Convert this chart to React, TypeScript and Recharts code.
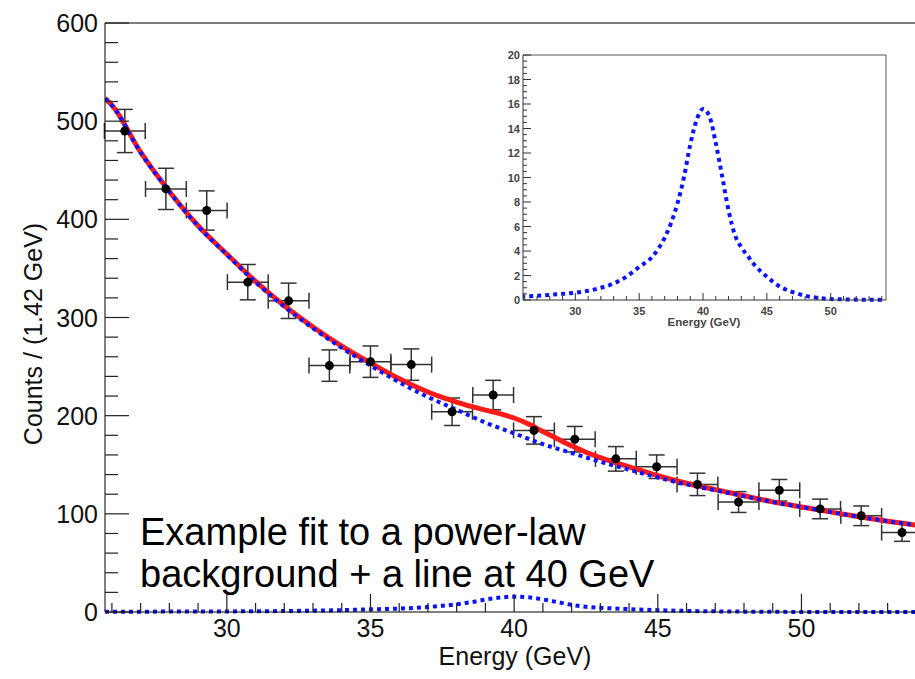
import React from 'react';
import { ComposedChart, LineChart, Line, Scatter, ErrorBar, XAxis, YAxis, ReferenceLine } from 'recharts';

const FONT = '"Liberation Sans", Arial, Helvetica, sans-serif';

// binned data, 1.42 GeV bins
const binCenters = [26.45, 27.88, 29.3, 30.73, 32.15, 33.57, 35.0, 36.42, 37.84, 39.27, 40.69, 42.11, 43.54, 44.96, 46.38, 47.81, 49.23, 50.65, 52.08, 53.5];
const counts = [490, 431, 409, 336, 317, 251, 255, 252, 204, 221, 185, 176, 156, 148, 130, 112, 124, 105, 98, 81];
const countErr = [22, 21, 20, 18, 18, 16, 16, 16, 14, 15, 14, 13, 12.5, 12, 11.4, 10.6, 11, 10, 10, 9];
const binHalfWidth = 0.71;

// power-law background (blue dotted)
const bkgX = [25.76, 26, 27, 28, 29, 30, 31, 32, 33, 34, 35, 36, 37, 38, 39, 40, 41, 42, 43, 44, 45, 46, 47, 48, 49, 50, 51, 52, 53, 54, 54.3];
const bkgY = [523, 516, 468, 428, 393, 364, 336, 311, 289, 269, 251, 234, 219, 206, 193, 182, 171, 162, 153, 145, 137, 130, 124, 118, 112, 107, 102, 97, 92.5, 88.5, 87.3];

// line at 40 GeV (signal component, also the inset)
const sigX = [25.76, 26, 27, 28, 29, 30, 31, 32, 33, 34, 35, 36, 37, 37.5, 38, 38.5, 39, 39.5, 40, 40.5, 41, 41.5, 42, 42.5, 43, 43.5, 44, 45, 46, 47, 48, 49, 50, 51, 52, 53, 54, 54.3];
const sigY = [0.3, 0.3, 0.35, 0.42, 0.5, 0.6, 0.75, 1.0, 1.35, 1.9, 2.7, 3.5, 5.1, 6.3, 7.9, 10.0, 12.7, 14.7, 15.6, 15.0, 12.8, 10.1, 7.3, 5.3, 4.3, 3.6, 2.9, 1.9, 1.1, 0.65, 0.35, 0.17, 0.08, 0.05, 0.03, 0.02, 0.01, 0.01];

// full fit (red)
const totY = [523.3, 516.3, 468.4, 428.4, 393.5, 364.6, 336.8, 312, 290.4, 270.9, 253.7, 237.5, 224.1, 218.6, 213.9, 209.4, 205.7, 202.1, 197.6, 191.4, 183.8, 176.5, 169.3, 162.7, 157.3, 152.5, 147.9, 138.9, 131.1, 124.7, 118.4, 112.2, 107.1, 102, 97, 92.5, 88.5, 87.3];

const xTicks = [26, 27, 28, 29, 30, 31, 32, 33, 34, 35, 36, 37, 38, 39, 40, 41, 42, 43, 44, 45, 46, 47, 48, 49, 50, 51, 52, 53, 54];
const xLabels = [30, 35, 40, 45, 50];
const yTicks = [0, 20, 40, 60, 80, 100, 120, 140, 160, 180, 200, 220, 240, 260, 280, 300, 320, 340, 360, 380, 400, 420, 440, 460, 480, 500, 520, 540, 560, 580, 600];
const yLabels = [0, 100, 200, 300, 400, 500, 600];

const insetXTicks = xTicks;
const insetYLabels = [0, 2, 4, 6, 8, 10, 12, 14, 16, 18, 20];
const insetYTicks = [0, 0.5, 1, 1.5, 2, 2.5, 3, 3.5, 4, 4.5, 5, 5.5, 6, 6.5, 7, 7.5, 8, 8.5, 9, 9.5, 10, 10.5, 11, 11.5, 12, 12.5, 13, 13.5, 14, 14.5, 15, 15.5, 16, 16.5, 17, 17.5, 18, 18.5, 19, 19.5, 20];

const points = binCenters.map((x, i) => ({ x, y: counts[i], ex: binHalfWidth, ey: countErr[i] }));
const bkgData = bkgX.map((x, i) => ({ x, y: bkgY[i] }));
const sigData = sigX.map((x, i) => ({ x, y: sigY[i] }));
const totData = sigX.map((x, i) => ({ x, y: totY[i] }));

const MainXTick = ({ x, y, payload }: any) => {
  const major = xLabels.includes(payload.value);
  return (
    <g>
      <line x1={x} y1={y} x2={x} y2={y - (major ? 18 : 9)} stroke="#222" strokeWidth={1.2} />
      {major && (
        <text x={x} y={y + 25} textAnchor="middle" fontSize={25} fontFamily={FONT} fill="#111">
          {payload.value}
        </text>
      )}
    </g>
  );
};

const MainYTick = ({ x, y, payload }: any) => {
  const major = yLabels.includes(payload.value);
  return (
    <g>
      <line x1={x} y1={y} x2={x + (major ? 24 : 13)} y2={y} stroke="#222" strokeWidth={1.2} />
      {major && (
        <text x={x - 7} y={y + 9} textAnchor="end" fontSize={25} fontFamily={FONT} fill="#111">
          {payload.value}
        </text>
      )}
    </g>
  );
};

const InsetXTick = ({ x, y, payload }: any) => {
  const major = xLabels.includes(payload.value);
  return (
    <g>
      <line x1={x} y1={y} x2={x} y2={y - (major ? 7 : 4)} stroke="#333" strokeWidth={1} />
      {major && (
        <text x={x} y={y + 15} textAnchor="middle" fontSize={11} fontWeight={700} fontFamily={FONT} fill="#444">
          {payload.value}
        </text>
      )}
    </g>
  );
};

const InsetYTick = ({ x, y, payload }: any) => {
  const major = insetYLabels.includes(payload.value);
  return (
    <g>
      <line x1={x} y1={y} x2={x + (major ? 8 : 4)} y2={y} stroke="#333" strokeWidth={1} />
      {major && (
        <text x={x - 3} y={y + 4} textAnchor="end" fontSize={11} fontWeight={700} fontFamily={FONT} fill="#444">
          {payload.value}
        </text>
      )}
    </g>
  );
};

const Dot = (p: any) => <circle cx={p.cx} cy={p.cy} r={4.5} fill="#000" />;

export default function App() {
  return (
    <div style={{ position: 'absolute', left: 0, top: 0, width: 915, height: 679, overflow: 'hidden', background: '#fff', fontFamily: FONT }}>
      <ComposedChart width={930} height={679} margin={{ top: 23, right: 5, bottom: 0, left: 0 }}>
        <XAxis
          dataKey="x"
          type="number"
          domain={[25.76, 54.3]}
          allowDataOverflow
          ticks={xTicks}
          interval={0}
          tickSize={0}
          tickMargin={0}
          tickLine={false}
          tick={<MainXTick />}
          height={67}
          stroke="#000"
          label={{
            content: () => (
              <text x={515} y={665} textAnchor="middle" fontSize={25} fontFamily={FONT} fill="#111">
                Energy (GeV)
              </text>
            ),
          }}
        />
        <YAxis
          type="number"
          domain={[0, 600]}
          ticks={yTicks}
          interval={0}
          tickSize={0}
          tickMargin={0}
          tickLine={false}
          tick={<MainYTick />}
          width={105}
          stroke="#000"
          label={{
            content: () => (
              <text x={42} y={334} transform="rotate(-90 42 334)" textAnchor="middle" fontSize={25} fontFamily={FONT} fill="#111">
                Counts / (1.42 GeV)
              </text>
            ),
          }}
        />
        <ReferenceLine y={600} stroke="#000" />
        <Scatter data={points} dataKey="y" shape={Dot} isAnimationActive={false}>
          <ErrorBar dataKey="ex" direction="x" width={8} stroke="#333" strokeWidth={1.5} />
          <ErrorBar dataKey="ey" direction="y" width={8} stroke="#333" strokeWidth={1.5} />
        </Scatter>
        <Line data={totData} dataKey="y" type="monotone" stroke="#ff1a1a" strokeWidth={5} dot={false} isAnimationActive={false} />
        <Line data={bkgData} dataKey="y" type="monotone" stroke="#0a14ff" strokeWidth={4} strokeDasharray="4 4" dot={false} isAnimationActive={false} />
        <Line data={sigData} dataKey="y" type="monotone" stroke="#0a14ff" strokeWidth={4} strokeDasharray="4 4" dot={false} isAnimationActive={false} />
      </ComposedChart>

      <div style={{ position: 'absolute', left: 470, top: 30 }}>
        <LineChart width={430} height={310} margin={{ top: 25, right: 14, bottom: 0, left: 0 }}>
          <XAxis
            dataKey="x"
            type="number"
            domain={[25.9, 54.33]}
            allowDataOverflow
            ticks={insetXTicks}
            interval={0}
            tickSize={0}
            tickMargin={0}
            tickLine={false}
            tick={<InsetXTick />}
            height={40}
            stroke="#333"
            label={{
              content: () => (
                <text x={234} y={296} textAnchor="middle" fontSize={11.5} fontWeight={700} fontFamily={FONT} fill="#444">
                  Energy (GeV)
                </text>
              ),
            }}
          />
          <YAxis
            type="number"
            domain={[0, 20]}
            ticks={insetYTicks}
            interval={0}
            tickSize={0}
            tickMargin={0}
            tickLine={false}
            tick={<InsetYTick />}
            width={53}
            stroke="#333"
          />
          <ReferenceLine y={20} stroke="#555" />
          <ReferenceLine x={54.33} stroke="#555" />
          <Line data={sigData} dataKey="y" type="monotone" stroke="#0a14ff" strokeWidth={4} strokeDasharray="4 4" dot={false} isAnimationActive={false} />
        </LineChart>
      </div>

      <svg width={915} height={679} style={{ position: 'absolute', left: 0, top: 0, pointerEvents: 'none' }}>
        <text x={140} y={545} fontSize={38} fontFamily={FONT} fill="#000">
          Example fit to a power-law
        </text>
        <text x={140} y={587} fontSize={38} fontFamily={FONT} fill="#000">
          background + a line at 40 GeV
        </text>
      </svg>
    </div>
  );
}
